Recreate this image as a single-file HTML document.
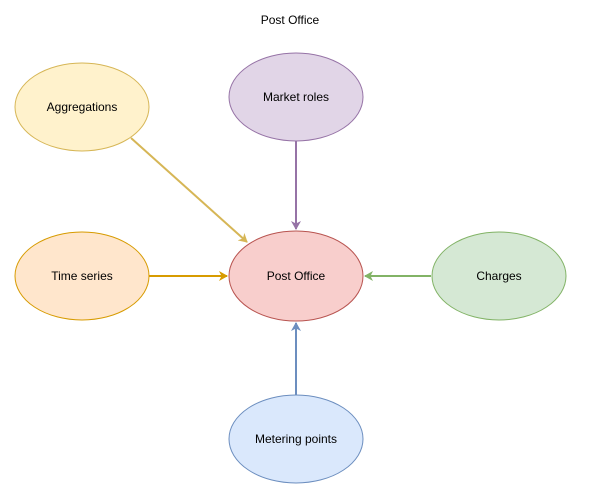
<!DOCTYPE html>
<html><head><style>html,body{margin:0;padding:0;background:#fff;}</style></head>
<body>
<svg width="593" height="498" xmlns="http://www.w3.org/2000/svg" font-family="Liberation Sans, sans-serif" font-size="12">
<defs>
<marker id="a1" markerWidth="10" markerHeight="10" refX="8" refY="5" orient="auto" markerUnits="userSpaceOnUse"><path d="M0,0 L9,5 L0,10 L2.5,5 Z" fill="#d6b656"/></marker>
<marker id="a2" markerWidth="10" markerHeight="10" refX="8" refY="5" orient="auto" markerUnits="userSpaceOnUse"><path d="M0,0 L9,5 L0,10 L2.5,5 Z" fill="#9673a6"/></marker>
<marker id="a3" markerWidth="10" markerHeight="10" refX="8" refY="5" orient="auto" markerUnits="userSpaceOnUse"><path d="M0,0 L9,5 L0,10 L2.5,5 Z" fill="#d79b00"/></marker>
<marker id="a4" markerWidth="10" markerHeight="10" refX="8" refY="5" orient="auto" markerUnits="userSpaceOnUse"><path d="M0,0 L9,5 L0,10 L2.5,5 Z" fill="#82b366"/></marker>
<marker id="a5" markerWidth="10" markerHeight="10" refX="8" refY="5" orient="auto" markerUnits="userSpaceOnUse"><path d="M0,0 L9,5 L0,10 L2.5,5 Z" fill="#6c8ebf"/></marker>
</defs>
<text x="290" y="24" text-anchor="middle">Post Office</text>
<line x1="131" y1="138" x2="247" y2="242" stroke="#d6b656" stroke-width="2" marker-end="url(#a1)"/>
<line x1="296" y1="141" x2="296" y2="229" stroke="#9673a6" stroke-width="2" marker-end="url(#a2)"/>
<line x1="149" y1="276" x2="227" y2="276" stroke="#d79b00" stroke-width="2" marker-end="url(#a3)"/>
<line x1="431" y1="276" x2="365" y2="276" stroke="#82b366" stroke-width="2" marker-end="url(#a4)"/>
<line x1="296" y1="395" x2="296" y2="323" stroke="#6c8ebf" stroke-width="2" marker-end="url(#a5)"/>
<ellipse cx="82" cy="107" rx="67" ry="44" fill="#fff2cc" stroke="#d6b656"/>
<ellipse cx="296" cy="97" rx="67" ry="44" fill="#e1d5e7" stroke="#9673a6"/>
<ellipse cx="296" cy="276" rx="67" ry="45" fill="#f8cecc" stroke="#b85450"/>
<ellipse cx="82" cy="276" rx="67" ry="44" fill="#ffe6cc" stroke="#d79b00"/>
<ellipse cx="499" cy="276" rx="67" ry="44" fill="#d5e8d4" stroke="#82b366"/>
<ellipse cx="296" cy="439" rx="67" ry="44" fill="#dae8fc" stroke="#6c8ebf"/>
<g text-anchor="middle">
<text x="82" y="111">Aggregations</text>
<text x="296" y="101">Market roles</text>
<text x="296" y="280">Post Office</text>
<text x="82" y="280">Time series</text>
<text x="499" y="280">Charges</text>
<text x="296" y="443">Metering points</text>
</g>
</svg>
</body></html>
